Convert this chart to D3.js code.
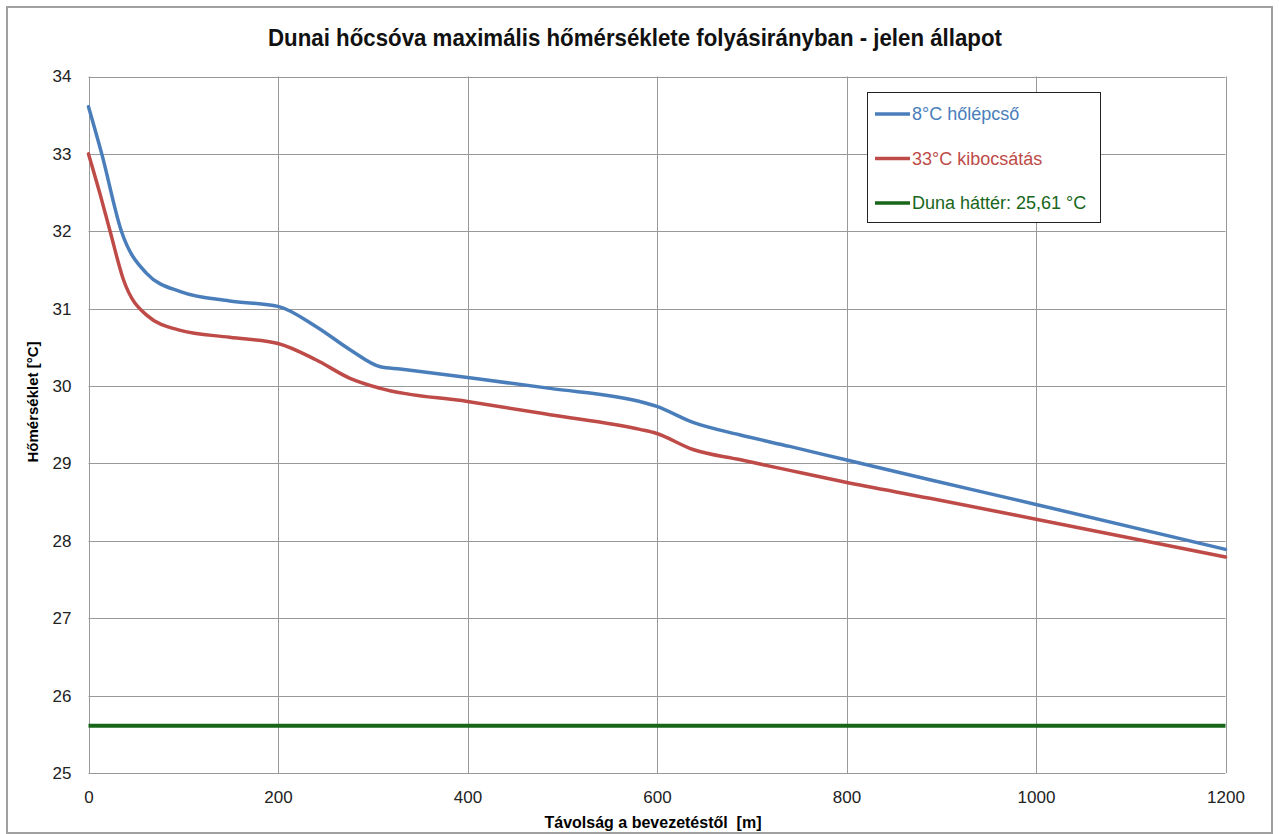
<!DOCTYPE html>
<meta charset="utf-8">
<title>Dunai hőcsóva</title>
<style>

body {
  margin: 0;
  background: #fff;
}

text {
  font-family: "Liberation Sans Narrow", "Arial Narrow", "Liberation Sans", sans-serif;
}

.grid line {
  stroke: #999;
  stroke-width: 1px;
}

.line {
  fill: none;
  stroke-linejoin: round;
  stroke-linecap: round;
}

</style>
<body>
<script src="https://cdn.jsdelivr.net/npm/d3@7"></script>
<script>

// distance from outfall [m]
var distBlue = [0, 14, 35, 61, 97, 149, 200, 240, 276, 308, 329, 400, 487, 582, 599, 638, 687, 740, 798, 888, 1000, 1200];
var tempBlue = [33.61, 33.0, 31.99, 31.46, 31.22, 31.1, 31.03, 30.77, 30.47, 30.25, 30.22, 30.11, 29.97, 29.8, 29.74, 29.53, 29.37, 29.22, 29.05, 28.79, 28.47, 27.89];

var distRed = [0, 12, 23, 37, 61, 97, 149, 200, 240, 276, 308, 400, 487, 582, 599, 638, 687, 740, 798, 888, 1000, 1200];
var tempRed = [33.0, 32.49, 31.99, 31.37, 30.92, 30.72, 30.63, 30.55, 30.34, 30.1, 29.97, 29.8, 29.63, 29.44, 29.39, 29.18, 29.05, 28.91, 28.76, 28.55, 28.28, 27.79];

var background = 25.61;

var seriesNames = ["8°C hőlépcső", "33°C kibocsátás", "Duna háttér: 25,61 °C"];
var seriesColors = ["#4a7ebb", "#be4b48", "#17661a"];

var xTicks = [0, 200, 400, 600, 800, 1000, 1200];
var yTicks = [25, 26, 27, 28, 29, 30, 31, 32, 33, 34];

var w = 1279,
    h = 834,
    pLeft = 88.5,
    pRight = 1225.5,
    pTop = 76.5,
    pBottom = 773;

var x = d3.scaleLinear().domain([0, 1200]).range([pLeft, pRight]);
var y = d3.scaleLinear().domain([25, 34]).range([pBottom, pTop]);

var svg = d3.select("body").append("svg")
    .attr("width", w)
    .attr("height", h);

svg.append("rect")
    .attr("x", 7)
    .attr("y", 7)
    .attr("width", 1265)
    .attr("height", 826)
    .attr("fill", "#fff")
    .attr("stroke", "#a0a0a0")
    .attr("stroke-width", 2);

svg.append("text")
    .attr("x", 635)
    .attr("y", 46)
    .attr("text-anchor", "middle")
    .attr("font-size", 24)
    .attr("font-weight", "bold")
    .attr("fill", "#111")
    .attr("textLength", 734)
    .attr("lengthAdjust", "spacingAndGlyphs")
    .text("Dunai hőcsóva maximális hőmérséklete folyásirányban - jelen állapot");

var grid = svg.append("g").attr("class", "grid");

grid.selectAll(".h")
    .data(yTicks)
  .enter().append("line")
    .attr("x1", pLeft)
    .attr("x2", pRight)
    .attr("y1", function(d) { return Math.round(y(d)) + 0.5; })
    .attr("y2", function(d) { return Math.round(y(d)) + 0.5; });

grid.selectAll(".v")
    .data(xTicks)
  .enter().append("line")
    .attr("y1", pTop)
    .attr("y2", pBottom)
    .attr("x1", function(d) { return Math.round(x(d)) + 0.5; })
    .attr("x2", function(d) { return Math.round(x(d)) + 0.5; });

// axes, labels only
var xAxis = svg.append("g")
    .attr("transform", "translate(0," + pBottom + ")")
    .call(d3.axisBottom(x).tickValues(xTicks).tickFormat(d3.format("d")).tickSize(0).tickPadding(18));

var yAxis = svg.append("g")
    .attr("transform", "translate(" + pLeft + ",0)")
    .call(d3.axisLeft(y).tickValues(yTicks).tickSize(0).tickPadding(17));

[xAxis, yAxis].forEach(function(a) {
  a.select(".domain").remove();
  a.selectAll("text")
      .attr("font-size", 17)
      .attr("fill", "#222");
  a.attr("font-family", null);
});

svg.append("text")
    .attr("transform", "translate(38,402)rotate(-90)")
    .attr("text-anchor", "middle")
    .attr("font-size", 15)
    .attr("font-weight", "bold")
    .text("Hőmérséklet [°C]");

svg.append("text")
    .attr("x", 653)
    .attr("y", 828)
    .attr("text-anchor", "middle")
    .attr("font-size", 16)
    .attr("font-weight", "bold")
    .style("white-space", "pre")
    .text("Távolság a bevezetéstől  [m]");

var line = d3.line()
    .x(function(d) { return x(d[0]); })
    .y(function(d) { return y(d[1]); })
    .curve(d3.curveMonotoneX);

svg.append("line")
    .attr("x1", x(0))
    .attr("x2", x(1200))
    .attr("y1", y(background))
    .attr("y2", y(background))
    .attr("stroke", seriesColors[2])
    .attr("stroke-width", 4);

svg.append("path")
    .datum(d3.zip(distRed, tempRed))
    .attr("class", "line")
    .attr("d", line)
    .attr("stroke", seriesColors[1])
    .attr("stroke-width", 3.5);

svg.append("path")
    .datum(d3.zip(distBlue, tempBlue))
    .attr("class", "line")
    .attr("d", line)
    .attr("stroke", seriesColors[0])
    .attr("stroke-width", 3.5);

// legend
var legend = svg.append("g");

legend.append("rect")
    .attr("x", 867.5)
    .attr("y", 92.5)
    .attr("width", 233)
    .attr("height", 130)
    .attr("fill", "#fff")
    .attr("stroke", "#222")
    .attr("stroke-width", 1);

var item = legend.selectAll(".item")
    .data(seriesNames)
  .enter().append("g")
    .attr("transform", function(d, i) { return "translate(0," + (114 + i * 44.5) + ")"; });

item.append("line")
    .attr("x1", 875)
    .attr("x2", 910)
    .attr("stroke", function(d, i) { return seriesColors[i]; })
    .attr("stroke-width", 3.5);

item.append("text")
    .attr("x", 912)
    .attr("dy", "0.35em")
    .attr("font-size", 18)
    .attr("fill", function(d, i) { return seriesColors[i]; })
    .text(function(d) { return d; });

</script>
